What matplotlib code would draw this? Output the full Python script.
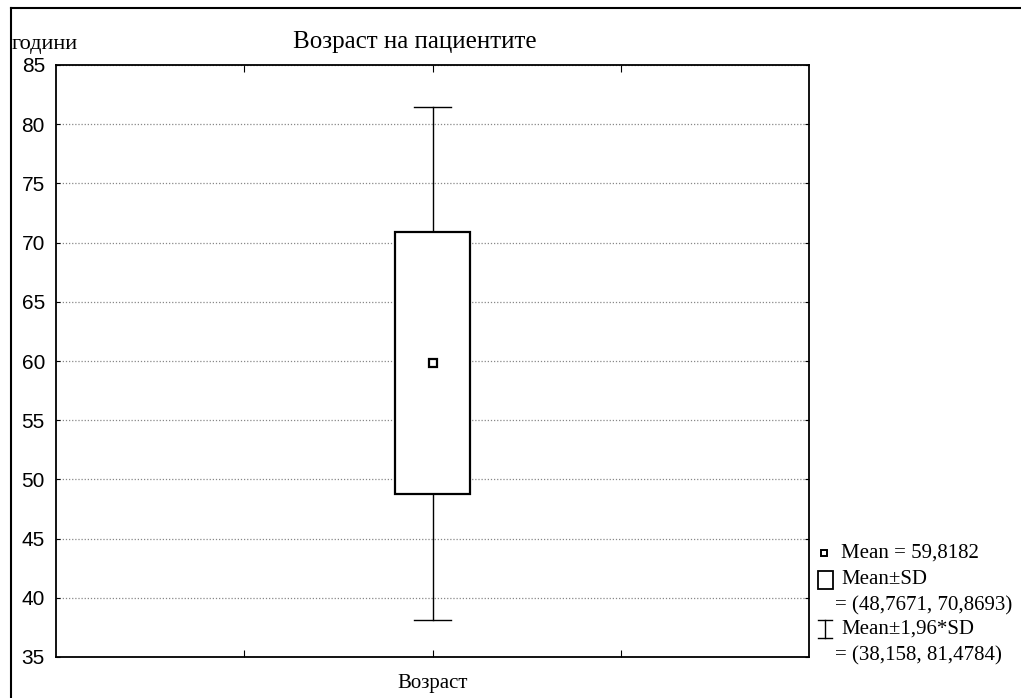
import matplotlib.pyplot as plt
from matplotlib.patches import Rectangle
from matplotlib.lines import Line2D

# donnees
category = "Возраст"
mean_val = 59.8182
sd_low, sd_high = 48.7671, 70.8693
ci_low, ci_high = 38.158, 81.4784
y_ticks = [35, 40, 45, 50, 55, 60, 65, 70, 75, 80, 85]

title = "Возраст на пациентите"
y_unit = "години"


def fmt(v):
    return str(v).replace('.', ',')


W, H = 1021, 698
fig = plt.figure(figsize=(W / 100, H / 100), dpi=100)

# axes en pixels
left, right, top, bottom = 56, 809, 65, 657
ax = fig.add_axes([left / W, 1 - bottom / H, (right - left) / W, (bottom - top) / H])

x0 = 0
box_w = 0.2
cap_w = 0.1

# moustaches
ax.plot([x0, x0], [ci_low, sd_low], color='black', lw=1, zorder=3)
ax.plot([x0, x0], [sd_high, ci_high], color='black', lw=1, zorder=3)
ax.plot([x0 - cap_w / 2, x0 + cap_w / 2], [ci_low, ci_low], color='black', lw=1, zorder=3)
ax.plot([x0 - cap_w / 2, x0 + cap_w / 2], [ci_high, ci_high], color='black', lw=1, zorder=3)

# boite mean +- SD
ax.add_patch(Rectangle((x0 - box_w / 2, sd_low), box_w, sd_high - sd_low,
                       facecolor='white', edgecolor='black', lw=1.6, zorder=3))
# moyenne
ax.plot([x0], [mean_val], marker='s', ms=6, mfc='white', mec='black', mew=1.6, zorder=4)

ax.set_xlim(-1, 1)
ax.set_ylim(35, 85)
ax.set_yticks(y_ticks)
ax.set_xticks([-0.5, 0, 0.5])
ax.set_xticklabels(['', category, ''], fontfamily='Liberation Serif', fontsize=15)
ax.tick_params(axis='y', labelsize=15, direction='in', length=3, right=True, pad=8)
ax.tick_params(axis='x', direction='in', length=5, top=True, pad=12)
for lab in ax.get_yticklabels():
    lab.set_fontfamily('Liberation Sans')
ax.grid(axis='y', linestyle=(0, (1, 1.5)), color='#888888', lw=0.9)
ax.set_axisbelow(True)
for s in ax.spines.values():
    s.set_linewidth(1.3)

# titres
fig.text(415 / W, 1 - 42 / H, title, ha='center', va='center',
         fontfamily='Liberation Serif', fontsize=18)
fig.text(12 / W, 1 - 45 / H, y_unit, ha='left', va='center',
         fontfamily='Liberation Serif', fontsize=16)

# cadre exterieur
fig.add_artist(Line2D([11 / W, 11 / W], [0, 1 - 8 / H], color='black', lw=1.5))
fig.add_artist(Line2D([11 / W, 1], [1 - 8 / H, 1 - 8 / H], color='black', lw=1.5))

# legende manuelle
tx = 841 / W
fs = 15
fig.add_artist(Line2D([824 / W], [1 - 553 / H], marker='s', ms=5, mfc='white',
                      mec='black', mew=1.4))
fig.text(tx, 1 - 553 / H, f"Mean = {fmt(mean_val)}", va='center',
         fontfamily='Liberation Serif', fontsize=fs)
fig.add_artist(Rectangle((818 / W, 1 - 589 / H), 15 / W, 18 / H, transform=fig.transFigure,
                         facecolor='white', edgecolor='black', lw=1.3))
fig.text(tx, 1 - 580 / H, "Mean±SD", va='center',
         fontfamily='Liberation Serif', fontsize=fs)
fig.text(835 / W, 1 - 606 / H, f"= ({fmt(sd_low)}, {fmt(sd_high)})", va='center',
         fontfamily='Liberation Serif', fontsize=fs)
sx = 825 / W
fig.add_artist(Line2D([sx, sx], [1 - 620 / H, 1 - 638 / H], color='black', lw=1))
fig.add_artist(Line2D([sx - 7 / W, sx + 7 / W], [1 - 620 / H, 1 - 620 / H], color='black', lw=1))
fig.add_artist(Line2D([sx - 7 / W, sx + 7 / W], [1 - 638 / H, 1 - 638 / H], color='black', lw=1))
fig.text(tx, 1 - 629 / H, "Mean±1,96*SD", va='center',
         fontfamily='Liberation Serif', fontsize=fs)
fig.text(835 / W, 1 - 656 / H, f"= ({fmt(ci_low)}, {fmt(ci_high)})", va='center',
         fontfamily='Liberation Serif', fontsize=fs)

fig.savefig('out.png', dpi=100)
